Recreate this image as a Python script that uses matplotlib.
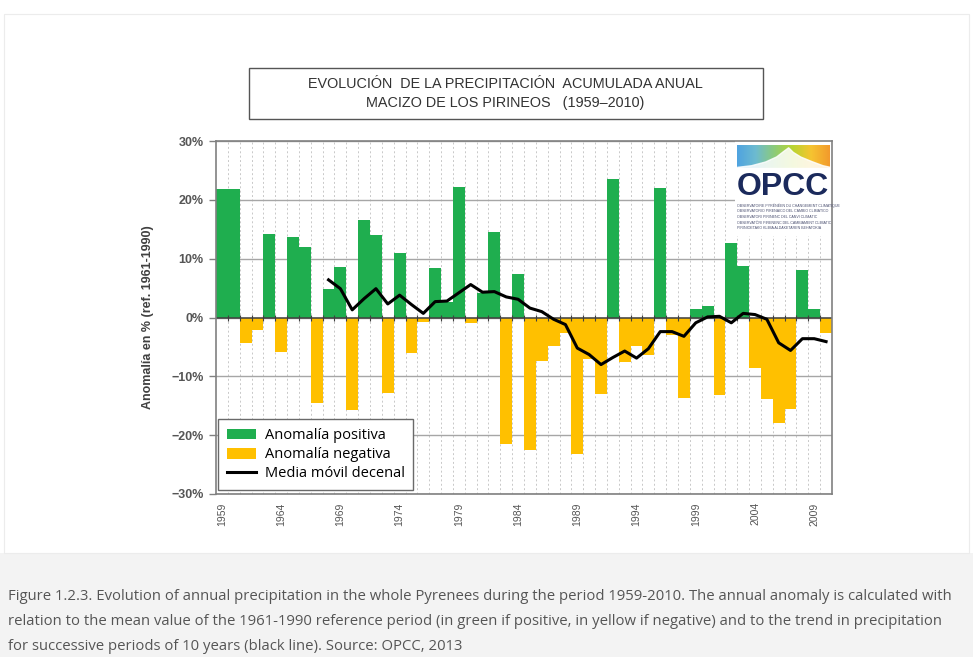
"""Annual precipitation anomaly in the Pyrenees (1959-2010)."""

import matplotlib

matplotlib.use("Agg")
import matplotlib.pyplot as plt
import numpy as np
from matplotlib.colors import LinearSegmentedColormap
from matplotlib.lines import Line2D
from matplotlib.patches import Patch, Rectangle
from matplotlib.ticker import FixedLocator, PercentFormatter

years = list(range(1959, 2011))
anomaly = [
    21.8, 21.8, -4.4, -2.1, 14.2, -5.8, 13.6, 12.0, -14.6, 4.9,
    8.6, -15.7, 16.5, 14.0, -12.9, 11.0, -6.1, -0.7, 8.4, 2.7,
    22.2, -0.9, 4.1, 14.5, -21.5, 7.4, -22.6, -7.4, -4.8, -2.6,
    -23.2, -7.1, -13.0, 23.5, -7.5, -4.9, -6.3, 22.0, -3.0, -13.6,
    1.5, 1.9, -13.2, 12.7, 8.8, -8.6, -13.9, -18.0, -15.5, 8.1,
    1.5, -2.6,
]
ma_years = list(range(1968, 2011))
moving_avg = [
    6.4, 4.9, 1.3, 3.2, 4.9, 2.3, 3.8, 2.2, 0.7, 2.7,
    2.8, 4.2, 5.6, 4.3, 4.4, 3.5, 3.1, 1.6, 1.0, -0.3,
    -1.2, -5.2, -6.3, -8.0, -6.8, -5.7, -6.9, -5.3, -2.4, -2.4,
    -3.2, -0.9, 0.1, 0.2, -0.9, 0.7, 0.5, -0.3, -4.3, -5.6,
    -3.6, -3.6, -4.1,
]
label_years = list(range(1959, 2010, 5))

title_lines = [
    "EVOLUCIÓN  DE LA PRECIPITACIÓN  ACUMULADA ANUAL",
    "MACIZO DE LOS PIRINEOS   (1959–2010)",
]
caption_lines = [
    "Figure 1.2.3. Evolution of annual precipitation in the whole Pyrenees during the period 1959-2010. "
    "The annual anomaly is calculated with",
    "relation to the mean value of the 1961-1990 reference period (in green if positive, in yellow if negative) "
    "and to the trend in precipitation",
    "for successive periods of 10 years (black line). Source: OPCC, 2013",
]
logo_lines = [
    "OBSERVATOIRE PYRÉNÉEN DU CHANGEMENT CLIMATIQUE",
    "OBSERVATORIO PIRENAICO DEL CAMBIO CLIMÁTICO",
    "OBSERVATORI PIRINENC DEL CANVI CLIMÀTIC",
    "OBSERVATÒRI PIRENENC DEL CAMBIAMENT CLIMATIC",
    "PIRINIOETAKO KLIMA ALDAKETAREN BEHATOKIA",
]

GREEN = "#1fae4f"
YELLOW = "#ffc000"
W, H = 973, 657

plt.rcParams["font.family"] = ["Liberation Sans", "DejaVu Sans"]

fig = plt.figure(figsize=(W / 100, H / 100), dpi=100)


def fx(px):
    return px / W


def fy(py):
    return 1 - py / H


# caption band and outer frame
fig.patches.append(Rectangle((0, 0), 1, fy(553), transform=fig.transFigure,
                             facecolor="#f3f3f3", edgecolor="none", zorder=-5))
fig.patches.append(Rectangle((fx(4), fy(553)), fx(965), fy(14) - fy(553),
                             transform=fig.transFigure, facecolor="none",
                             edgecolor="#ececec", lw=0.8, zorder=-4))
for i, line in enumerate(caption_lines):
    fig.text(fx(8), fy(597 + 24.5 * i), line, ha="left", va="center",
             fontsize=10.7, color="#555555", family=["Open Sans", "DejaVu Sans"])

# title box
fig.patches.append(Rectangle((fx(249), fy(119)), fx(514), fy(68) - fy(119),
                             transform=fig.transFigure, facecolor="white",
                             edgecolor="#555555", lw=1.0))
for i, line in enumerate(title_lines):
    fig.text(fx(505), fy(84 + 19 * i), line, ha="center", va="center",
             fontsize=10.4, color="#333333")

ax = fig.add_axes([fx(216), fy(494), fx(616), fy(141) - fy(494)])

colors = [GREEN if v >= 0 else YELLOW for v in anomaly]
ax.bar(years, anomaly, width=1.0, color=colors, zorder=2)
ax.plot(ma_years, moving_avg, color="black", lw=2.2, zorder=3)

ax.set_xlim(years[0] - 0.5, years[-1] + 0.5)
ax.set_ylim(-30, 30)
ax.set_yticks(np.arange(-30, 31, 10))
ax.yaxis.set_major_formatter(PercentFormatter(decimals=0))
ax.set_xticks(label_years)
ax.set_xticklabels([str(y) for y in label_years], rotation=90)
boundaries = [y + 0.5 for y in years[:-1]]
ax.xaxis.set_minor_locator(FixedLocator(boundaries))

ax.set_axisbelow(True)
ax.grid(axis="y", which="major", color="#a6a6a6", lw=1.0)
ax.grid(axis="x", which="minor", color="#c8c8c8", lw=0.7, ls=(0, (2, 2.5)))
ax.axhline(0, color="#404040", lw=1.1, zorder=2.5)
# little ticks on the zero line between years
ax.plot(boundaries, [0] * len(boundaries), ls="none", marker="|",
        markersize=5, color="#404040", markeredgewidth=0.8, zorder=2.5)

for side in ax.spines.values():
    side.set_color("#808080")
    side.set_linewidth(1.2)
ax.tick_params(axis="x", which="both", length=0, pad=6, labelsize=7.5,
               labelcolor="#555555")
ax.tick_params(axis="y", length=5, width=1, color="#808080", pad=4,
               labelsize=9, labelcolor="#555555")
for lab in ax.get_yticklabels():
    lab.set_fontweight("bold")

ax.set_ylabel("Anomalía en % (ref. 1961-1990)", fontsize=9, fontweight="bold",
              color="#404040", labelpad=12)

handles = [
    Patch(facecolor=GREEN, label="Anomalía positiva"),
    Patch(facecolor=YELLOW, label="Anomalía negativa"),
    Line2D([], [], color="black", lw=2.2, label="Media móvil decenal"),
]
leg = ax.legend(handles=handles, loc="lower left", bbox_to_anchor=(0.003, 0.011),
                borderaxespad=0, fancybox=False, framealpha=1, edgecolor="#6a6a6a",
                prop={"family": ["Open Sans", "DejaVu Sans"], "size": 10.5},
                handlelength=2.0, handleheight=0.75, labelspacing=0.28,
                borderpad=0.6, handletextpad=0.6)
leg.get_frame().set_linewidth(1.0)
leg.set_zorder(5)

# OPCC logo
ax.add_patch(Rectangle((0.843, 0.73), 0.157, 0.27, transform=ax.transAxes,
                       facecolor="white", edgecolor="none", zorder=1.5))
logo = fig.add_axes([fx(737), fy(168), fx(93), fy(145) - fy(168)])
cmap = LinearSegmentedColormap.from_list(
    "opcc", ["#4fa3e0", "#6dbbd0", "#8ccb7a", "#b9d531", "#f6c431", "#f29a2c"])
logo.imshow(np.linspace(0, 1, 200)[None, :], aspect="auto", cmap=cmap,
            extent=(0, 1, 0, 1))
ridge_x = [0, 0.15, 0.3, 0.42, 0.5, 0.55, 0.6, 0.68, 0.8, 0.92, 1]
ridge_y = [0.05, 0.12, 0.28, 0.5, 0.75, 0.9, 0.7, 0.5, 0.3, 0.12, 0.05]
logo.fill_between(ridge_x, 0, ridge_y, color="white", alpha=0.85)
logo.set_xlim(0, 1)
logo.set_ylim(0, 1)
logo.axis("off")
fig.text(fx(783), fy(187), "OPCC", ha="center", va="center", fontsize=23,
         fontweight="bold", color="#1b2a5c")
for i, line in enumerate(logo_lines):
    fig.text(fx(737), fy(206 + 5.5 * i), line, ha="left", va="center",
             fontsize=2.6, color="#4a4f70")

fig.savefig("out.png", dpi=100)
